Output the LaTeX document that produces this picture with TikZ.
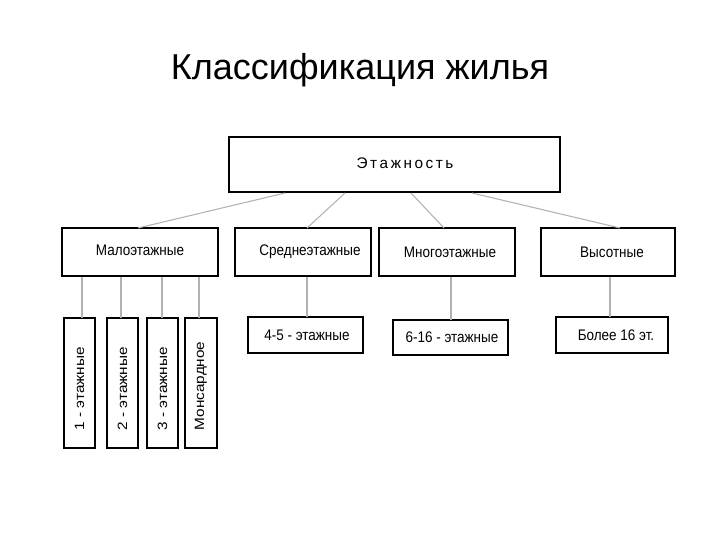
\documentclass[tikz,border=0pt]{standalone}
\usepackage{fontspec}
\setmainfont{Liberation Sans}
\begin{document}
\begin{tikzpicture}[x=0.75pt,y=-0.75pt,
  bx/.style={draw,line width=1.5pt,inner sep=0},
  lbl/.style={font=\fontsize{11.5}{13}\selectfont,xscale=0.88},
  con/.style={draw=gray!60,line width=0.8pt}]
\useasboundingbox (0,0) rectangle (720,540);
\node[font=\fontsize{27}{32}\selectfont] (title) at (360,70) {Классификация жилья};
\draw[bx] (229,137) rectangle (560,192);
\node[font=\fontsize{11.5}{13}\selectfont] (top) at (405,163) {Э\,т\,а\,ж\,н\,о\,с\,т\,ь};
\coordinate (tA) at (285,193); \coordinate (tB) at (345,193);
\coordinate (tC) at (411,193); \coordinate (tD) at (472,193);
% level 2
\draw[bx] (62,228) rectangle (218,276);
\node[lbl] (malo) at (140,250) {Малоэтажные};
\draw[bx] (235,228) rectangle (371,276);
\node[lbl] (sred) at (310,252) {Среднеэтажные};
\draw[bx] (379,228) rectangle (515,276);
\node[lbl] (mnog) at (450,252) {Многоэтажные};
\draw[bx] (541,228) rectangle (675,276);
\node[lbl] (vys) at (612,252) {Высотные};
\coordinate (mA) at (138,228); \coordinate (sA) at (307,228);
\coordinate (nA) at (444,228); \coordinate (vA) at (620,228);
\draw[con] (tA)--(mA); \draw[con] (tB)--(sA); \draw[con] (tC)--(nA); \draw[con] (tD)--(vA);
% children of malo
\foreach \n/\xa/\xb/\t in {c1/64/95/{1 - этажные},c2/107/138/{2 - этажные},c3/147/178/{3 - этажные},c4/185/217/{Монсардное}}{
  \draw[bx] (\xa,318) rectangle (\xb,448);
  \node[lbl,rotate=90,anchor=west] (\n) at ({(\xa+\xb)/2},435) {\t};
}
\foreach \xx in {82,121,162,199}{\draw[con] (\xx,277)--(\xx,318);}
% other children
\draw[bx] (248,317) rectangle (363,353);
\node[lbl] (d1) at (307,335) {4-5 - этажные};
\draw[bx] (393,320) rectangle (508,355);
\node[lbl] (d2) at (452,337) {6-16 - этажные};
\draw[bx] (556,317) rectangle (668,353);
\node[lbl] (d3) at (616,335) {Более 16 эт.};
\coordinate (sB) at (307,277); \coordinate (nB) at (451,277); \coordinate (vB) at (610,277);
\draw[con] (sB)--(307,317); \draw[con] (nB)--(451,320); \draw[con] (vB)--(610,317);
\end{tikzpicture}
\end{document}
